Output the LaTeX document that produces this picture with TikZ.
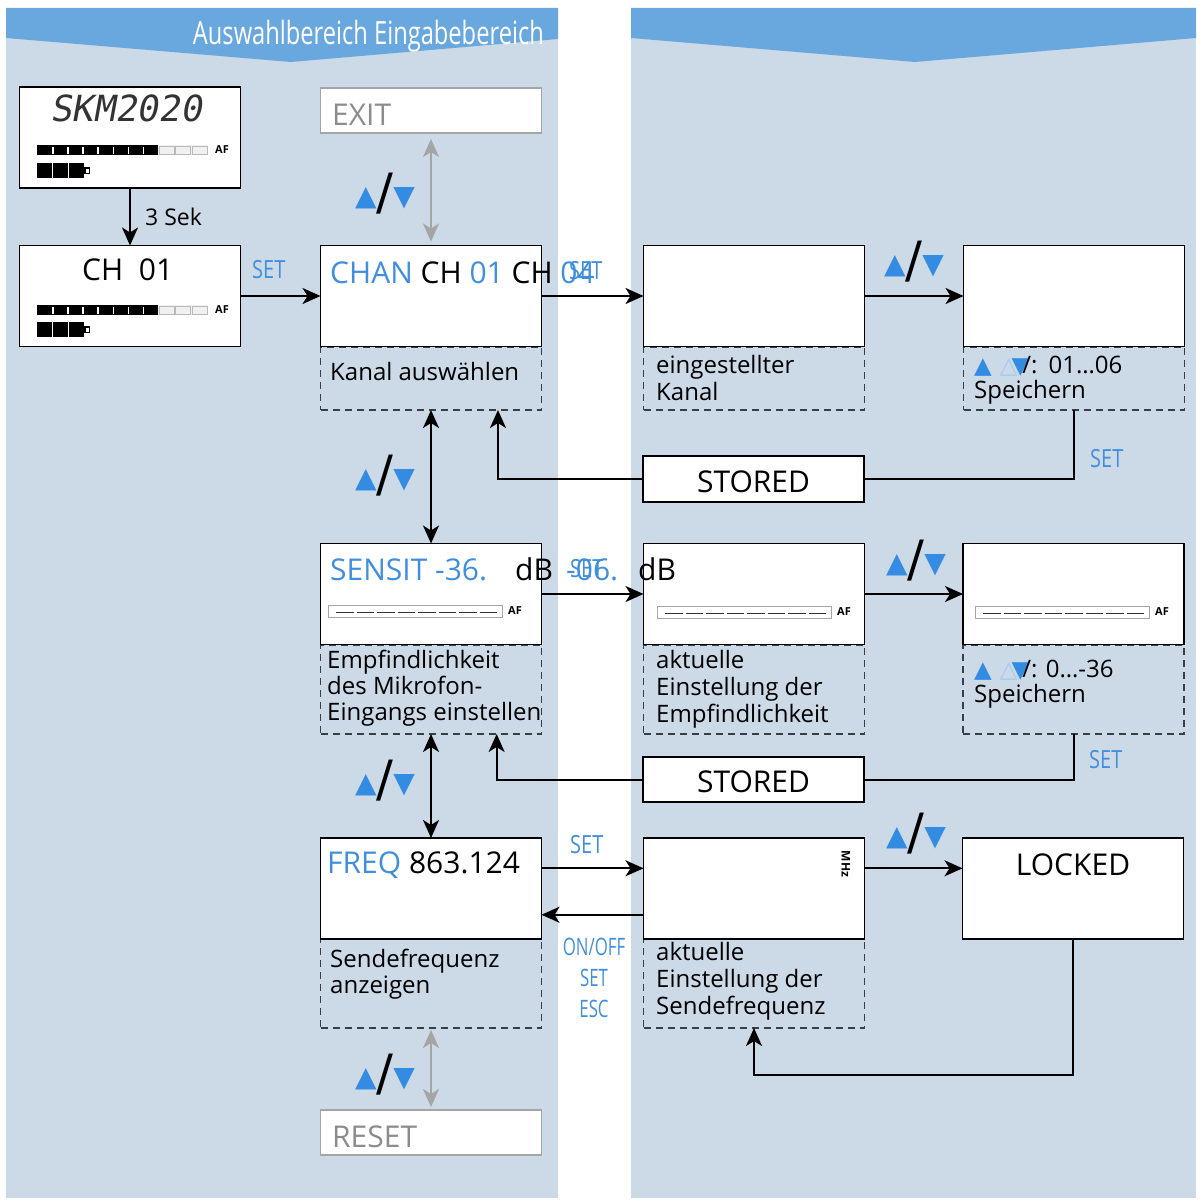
\documentclass[tikz,border=0pt]{standalone}
\usepackage{fontspec}
\setmainfont{Open Sans}
\newfontfamily\condfont[FakeStretch=0.8]{Open Sans}
\newfontfamily\narrowfont[FakeStretch=0.7]{Open Sans}
\newfontfamily\headfont[FakeStretch=0.74]{Open Sans}
\newfontfamily\symfont{DejaVu Sans}
\newfontfamily\lcdfont[FakeSlant=0.18]{DejaVu Sans Mono}
\usetikzlibrary{arrows.meta,calc}
\definecolor{panelc}{RGB}{204,217,230}
\definecolor{bandc}{RGB}{105,167,223}
\definecolor{bluet}{RGB}{64,143,222}
\definecolor{tric}{RGB}{52,140,226}
\definecolor{notec}{RGB}{55,62,72}
\definecolor{greyc}{RGB}{165,165,165}
\definecolor{greyt}{RGB}{140,140,140}
\newcommand{\setfs}[1]{\fontsize{#1}{#1}\selectfont}
\newcommand{\updn}{{\color{tric}\raisebox{4pt}{\setfs{28}▲}}{\setfs{50}/}{\color{tric}\raisebox{4pt}{\setfs{28}▼}}}
\newcommand{\smallud}{{\symfont\setfs{23}\color{tric}▲}\hspace{8pt}{\symfont\setfs{23}\color{white!55!tric}△}\hspace{-6pt}{\symfont\setfs{23}\color{tric}▼}\hspace{-7pt}}
\newcommand{\fullbar}[3]{%
  \fill[black] (#1,#2) rectangle ++(121,10);
  \foreach \k in {1,...,7}{\fill[white] (#1+\k*15.1,#2+1.5) rectangle ++(1.5,7);}
  \fill[gray!12] (#1+121,#2) rectangle ++(50,10);
  \foreach \k in {0,1,2}{\draw[gray!55,line width=0.7pt] (#1+122+\k*16.5,#2+1) rectangle ++(15,8);}
  \node[aflbl,anchor=west] (#3) at (#1+178,#2+5) {AF};
}
\newcommand{\battery}[2]{%
  \foreach \k in {0,1,2}{\fill[black] (#1+\k*16,#2) rectangle ++(14.5,15);}
  \fill[black] (#1+47,#2+4) rectangle ++(6,7);
  \fill[white] (#1+48.5,#2+5.5) rectangle ++(3,4);
}
\newcommand{\emptybar}[3]{%
  \draw[gray!70, line width=0.8pt, fill=white] (#1,#2) rectangle ++(174,12);
  \foreach \k in {0,...,7}{\draw[black!80, line width=1.6pt] (#1+8+\k*20.5,#2+7.5) -- ++(17.5,0);}
  \node[aflbl,anchor=west] (#3) at (#1+180,#2+6) {AF};
}
\begin{document}
\begin{tikzpicture}[x=1pt,y=-1pt,
  lcdbox/.style={draw=black, line width=1.8pt, fill=white, minimum width=221pt, minimum height=101pt, inner sep=0pt, outer sep=0pt},
  notebox/.style={draw=notec, line width=1.9pt, dash pattern=on 7pt off 5pt, minimum width=221pt, inner sep=0pt, outer sep=0pt},
  greybox/.style={draw=greyc, line width=1.5pt, fill=white, minimum width=221pt, minimum height=45pt, inner sep=0pt, outer sep=0pt},
  storebox/.style={lcdbox, minimum height=46pt},
  txt/.style={anchor=base west, inner sep=0pt, font=\setfs{24}},
  lcdtxt/.style={anchor=base west, inner sep=0pt, font=\setfs{30}},
  setlbl/.style={anchor=base west, inner sep=0pt, text=bluet, font=\condfont\setfs{25}},
  symlbl/.style={inner sep=0pt, font=\symfont},
  aflbl/.style={inner sep=0pt, font=\bfseries\setfs{11}},
  arr/.style={draw=black, line width=2pt, -{Stealth[length=18pt,width=16pt,inset=5pt]}},
  darr/.style={draw=black, line width=2pt, {Stealth[length=18pt,width=16pt,inset=5pt]}-{Stealth[length=18pt,width=16pt,inset=5pt]}},
  gdarr/.style={draw=greyc, line width=2pt, {Stealth[length=18pt,width=16pt,inset=5pt]}-{Stealth[length=18pt,width=16pt,inset=5pt]}},
  conn/.style={draw=black, line width=2pt}]

\fill[white] (0,0) rectangle (1204,1204);
\useasboundingbox (0,0) rectangle (1204,1204);

% panels
\fill[panelc] (6,8) rectangle (558,1198);
\fill[panelc] (631,8) rectangle (1196,1198);
\fill[bandc] (6,8) -- (558,8) -- (558,39) -- (291,62) -- (6,38) -- cycle;
\fill[bandc] (631,8) -- (1196,8) -- (1196,38) -- (915,62) -- (631,38) -- cycle;
\node[anchor=base east, inner sep=0pt, text=white, font=\headfont\setfs{32}] (hdr) at (544,45) {Auswahlbereich Eingabebereich};

% dashed note boxes (drawn first)
\node[notebox, minimum height=63pt] (n1) at (431,378.5) {};
\node[notebox, minimum height=63pt] (n2) at (754,378.5) {};
\node[notebox, minimum height=63pt] (n3) at (1074,378.5) {};
\node[notebox, minimum height=89pt] (n4) at (431,689.5) {};
\node[notebox, minimum height=89pt] (n5) at (754,689.5) {};
\node[notebox, minimum height=89pt] (n6) at (1073.5,689.5) {};
\node[notebox, minimum height=89pt] (n7) at (431,983.5) {};
\node[notebox, minimum height=89pt] (n8) at (754,983.5) {};

% display boxes
\node[lcdbox] (skm) at (130,137.5) {};
\node[lcdbox] (ch) at (130,296) {};
\node[greybox] (exit) at (431,110.5) {};
\node[lcdbox] (chan) at (431,296) {};
\node[lcdbox] (k2) at (754,296) {};
\node[lcdbox] (k3) at (1074,296) {};
\node[storebox] (st1) at (753.5,479) {};
\node[lcdbox] (sens) at (431,594) {};
\node[lcdbox] (k5) at (754,594) {};
\node[lcdbox] (k6) at (1073.5,594) {};
\node[storebox, minimum height=45pt] (st2) at (753.5,779.5) {};
\node[lcdbox] (freq) at (431,888.5) {};
\node[lcdbox] (k8) at (754,888.5) {};
\node[lcdbox] (lock) at (1073,888.5) {};
\node[greybox] (reset) at (431,1132.5) {};

% display contents
\node[anchor=base west, inner sep=0pt, font=\lcdfont\setfs{36}, text=black!80] (skmt) at (50,122) {SKM2020};
\fullbar{37}{145}{af1}
\battery{37}{163}
\node[lcdtxt] (cht) at (82,280) {CH\ \ 01};
\fullbar{37}{305}{af2}
\battery{37}{322}
\node[lcdtxt, text=greyt] (exitt) at (332,125) {EXIT};
\node[lcdtxt] (chant) at (330,283) {\textcolor{bluet}{CHAN} CH \textcolor{bluet}{01} CH \textcolor{bluet}{04}};
\node[setlbl] (set2) at (569,279) {SET};
\node[lcdtxt, anchor=base] (st1t) at (753.5,492) {STORED};
\node[lcdtxt, text=bluet] (senst) at (330,580) {SENSIT -36.};
\node[lcdtxt] (db1) at (515,580) {dB};
\node[lcdtxt, text=bluet] (m06) at (566,580) {-06.};
\node[setlbl] (set3) at (570,577) {SET};
\node[lcdtxt] (db2) at (638,580) {dB};
\emptybar{328}{605}{af3}
\emptybar{657}{606}{af4}
\emptybar{975}{606}{af5}
\node[lcdtxt, anchor=base] (st2t) at (753.5,792) {STORED};
\node[lcdtxt] (freqt) at (327,873) {\textcolor{bluet}{FREQ} 863.124};
\node[rotate=-90, inner sep=0pt, font=\bfseries\setfs{12}] (mhz) at (846,864) {MHz};
\node[lcdtxt, anchor=base] (lockt) at (1073,875) {LOCKED};
\node[lcdtxt, text=greyt] (rst) at (332,1147) {RESET};

% note texts
\node[txt] (n1a) at (330,380) {Kanal auswählen};
\node[txt] (n2a) at (656,373) {eingestellter};
\node[txt] (n2b) at (656,400) {Kanal};
\node[txt] (n3a) at (974,373) {\smallud/:\ \hspace{5pt}01…06};
\node[txt] (n3b) at (974,398) {Speichern};
\node[txt] (n4a) at (327,668) {Empfindlichkeit};
\node[txt] (n4b) at (327,694) {des Mikrofon-};
\node[txt] (n4c) at (327,720) {Eingangs einstellen};
\node[txt] (n5a) at (656,668) {aktuelle};
\node[txt] (n5b) at (656,695) {Einstellung der};
\node[txt] (n5c) at (656,722) {Empfindlichkeit};
\node[txt] (n6a) at (974,677) {\smallud/: 0…-36};
\node[txt] (n6b) at (974,702) {Speichern};
\node[txt] (n7a) at (330,967) {Sendefrequenz};
\node[txt] (n7b) at (330,993) {anzeigen};
\node[txt] (n8a) at (656,960) {aktuelle};
\node[txt] (n8b) at (656,987) {Einstellung der};
\node[txt] (n8c) at (656,1014) {Sendefrequenz};

% labels
\node[txt, font=\setfs{23}] (sek) at (145,225) {3 Sek};
\node[setlbl] (set1) at (252,278) {SET};
\node[setlbl] (set5) at (1090,467) {SET};
\node[setlbl] (set6) at (1089,768) {SET};
\node[setlbl] (set4) at (570,853) {SET};
\node[anchor=base, inner sep=0pt, text=bluet, font=\narrowfont\setfs{24}] (onoff) at (594,955) {ON/OFF};
\node[anchor=base, inner sep=0pt, text=bluet, font=\narrowfont\setfs{24}] (set7) at (594,986) {SET};
\node[anchor=base, inner sep=0pt, text=bluet, font=\narrowfont\setfs{24}] (esc) at (594,1017) {ESC};

% up/down symbols
\node[symlbl] (ud1) at (385,194) {\updn};
\node[symlbl] (ud2) at (385,476) {\updn};
\node[symlbl] (ud3) at (385,781) {\updn};
\node[symlbl] (ud4) at (385,1075) {\updn};
\node[symlbl] (ud5) at (914,262) {\updn};
\node[symlbl] (ud6) at (916,561) {\updn};
\node[symlbl] (ud7) at (916,834) {\updn};

% helper coordinates
\coordinate (c1) at ($(n1.south west)!0.803!(n1.south east)$);
\coordinate (c2) at ($(n4.south west)!0.797!(n4.south east)$);
\coordinate (lkb) at (0,1075);

% connectors
\draw[arr] (skm.south) -- (ch.north);
\draw[arr] (ch.east) -- (chan.west);
\draw[gdarr, shorten <=6pt, shorten >=4pt] (exit.south) -- (chan.north);
\draw[arr] (chan.east) -- (k2.west);
\draw[arr] (k2.east) -- (k3.west);
\draw[conn] (n3.south) |- (st1.east);
\draw[arr] (st1.west) -| (c1);
\draw[darr] (n1.south) -- (sens.north);
\draw[arr] (sens.east) -- (k5.west);
\draw[arr] (k5.east) -- (k6.west);
\draw[conn] (n6.south) |- (st2.east);
\draw[arr] (st2.west) -| (c2);
\draw[darr] (n4.south) -- (freq.north);
\draw[arr] ($(freq.north east)!0.3!(freq.south east)$) -- ($(k8.north west)!0.3!(k8.south west)$);
\draw[arr] ($(k8.north west)!0.76!(k8.south west)$) -- ($(freq.north east)!0.76!(freq.south east)$);
\draw[arr] ($(k8.north east)!0.3!(k8.south east)$) -- ($(lock.north west)!0.3!(lock.south west)$);
\draw[arr] (lock.south) -- (lock.south |- lkb) -- (n8.south |- lkb) -- (n8.south);
\draw[gdarr, shorten <=2pt, shorten >=3pt] (n7.south) -- (reset.north);
\end{tikzpicture}
\end{document}
